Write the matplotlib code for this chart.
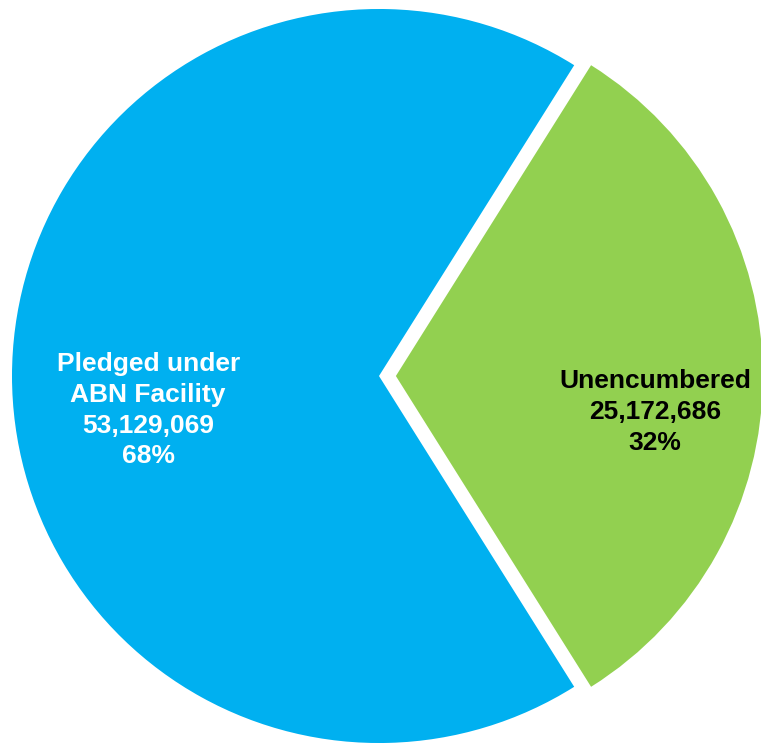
import matplotlib
matplotlib.use("Agg")
import matplotlib.pyplot as plt

categories = ["Pledged under\nABN Facility", "Unencumbered"]
values = [53129069, 25172686]
colors = ["#00B0F0", "#92D050"]
text_colors = ["white", "black"]
explode = [0, 0.046]

total = sum(values)
green_half = values[1] / total * 360 / 2

fig = plt.figure(figsize=(7.61, 7.45), dpi=100)
ax = fig.add_axes([0, 0, 1, 1])
ax.pie(values, colors=colors, explode=explode, startangle=green_half,
       counterclock=True, wedgeprops=dict(linewidth=0))

# label positions (data coords)
label_pos = [(-0.629, -0.093), (0.752, -0.098)]
for name, v, tc, (x, y) in zip(categories, values, text_colors, label_pos):
    pct = round(v / total * 100)
    ax.text(x, y, f"{name}\n{v:,}\n{pct}%", ha="center", va="center",
            color=tc, fontsize=19, fontweight="bold",
            family="Liberation Sans", linespacing=1.36)

ax.set_aspect("auto")
ax.set_xlim(-1.0327, 1.0409)
ax.set_ylim(-1.0054, 1.0245)
ax.axis("off")
fig.savefig("out.png", dpi=100)
